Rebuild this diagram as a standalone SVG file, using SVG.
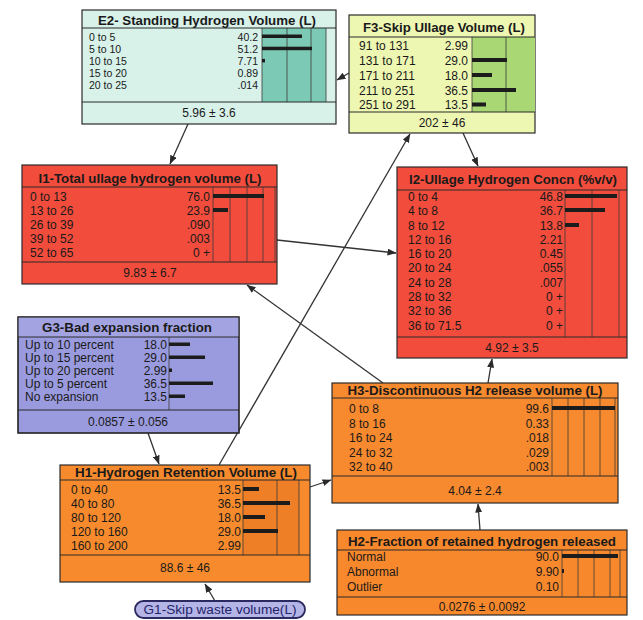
<svg xmlns="http://www.w3.org/2000/svg" width="643" height="620" viewBox="0 0 643 620">
<defs>
<marker id="arr" markerUnits="userSpaceOnUse" markerWidth="9" markerHeight="7" refX="8.5" refY="3.5" orient="auto">
<path d="M0,0 L9,3.5 L0,7 z" fill="#2a2a2a"/>
</marker>
</defs>
<style>
.box{stroke:#2b2b2b;stroke-width:1.2}
.ln{stroke:#2b2b2b;stroke-width:1}
.grid{stroke:#3a3a3a;stroke-width:0.8}
.title{font-family:"Liberation Sans",Arial,sans-serif;font-weight:bold;font-size:12.5px;fill:#1a1a1a;text-anchor:middle}
.row{font-family:"Liberation Sans",Arial,sans-serif;font-size:12px;fill:#1a1a1a}
.sm{font-size:10.5px}
.num{text-anchor:end}
.foot{text-anchor:middle}
.bar{fill:#1c1c1c}
.conn{stroke:#333;stroke-width:1.3;fill:none;marker-end:url(#arr)}
</style>
<rect width="643" height="620" fill="#ffffff"/>

<g id="connectors">
<line class="conn" x1="188" y1="124" x2="170" y2="164"/>
<line class="conn" x1="349" y1="73" x2="337" y2="80"/>
<line class="conn" x1="219" y1="465" x2="410" y2="134"/>
<line class="conn" x1="463" y1="133" x2="478" y2="166"/>
<line class="conn" x1="277" y1="240" x2="396" y2="253"/>
<line class="conn" x1="383" y1="383" x2="247" y2="285"/>
<line class="conn" x1="488" y1="383" x2="492" y2="359"/>
<line class="conn" x1="148" y1="433" x2="159" y2="464"/>
<line class="conn" x1="310" y1="487" x2="331" y2="480"/>
<line class="conn" x1="480" y1="530" x2="478" y2="504"/>
<line class="conn" x1="215" y1="601" x2="205" y2="584"/>
</g>

<g id="E2">
<rect class="box" x="82" y="10" width="254" height="114" fill="#d8f1e9"/>
<rect x="262" y="28" width="64" height="74" fill="#7ccab5"/>
<line class="grid" x1="262" y1="28" x2="262" y2="102"/>
<line class="grid" x1="287" y1="28" x2="287" y2="102"/>
<line class="grid" x1="311" y1="28" x2="311" y2="102"/>
<line class="grid" x1="326" y1="28" x2="326" y2="102"/>
<line class="ln" x1="82" y1="28" x2="336" y2="28"/>
<line class="ln" x1="82" y1="102" x2="336" y2="102"/>
<text class="title" x="207" y="24.5" textLength="218" lengthAdjust="spacingAndGlyphs">E2- Standing Hydrogen Volume (L)</text>
<text class="row sm" x="89" y="40.5">0 to 5</text>
<text class="row sm" x="89" y="52.7">5 to 10</text>
<text class="row sm" x="89" y="64.9">10 to 15</text>
<text class="row sm" x="89" y="77.1">15 to 20</text>
<text class="row sm" x="89" y="89.3">20 to 25</text>
<text class="row sm num" x="258" y="40.5">40.2</text>
<text class="row sm num" x="258" y="52.7">51.2</text>
<text class="row sm num" x="258" y="64.9">7.71</text>
<text class="row sm num" x="258" y="77.1">0.89</text>
<text class="row sm num" x="258" y="89.3">.014</text>
<rect class="bar" x="262" y="34.5" width="40" height="3.5"/>
<rect class="bar" x="262" y="46.7" width="50" height="3.5"/>
<rect class="bar" x="262" y="58.9" width="3" height="3.5"/>
<text class="row foot" x="209" y="117">5.96 ± 3.6</text>
</g>

<g id="F3">
<rect class="box" x="349" y="15" width="186" height="118" fill="#eef7b2"/>
<rect x="472" y="37" width="63" height="75" fill="#a9d774"/>
<line class="grid" x1="472" y1="37" x2="472" y2="112"/>
<line class="grid" x1="506" y1="37" x2="506" y2="112"/>
<line class="ln" x1="349" y1="37" x2="535" y2="37"/>
<line class="ln" x1="349" y1="112" x2="535" y2="112"/>
<text class="title" x="444" y="32" textLength="162" lengthAdjust="spacingAndGlyphs">F3-Skip Ullage Volume (L)</text>
<text class="row" x="359" y="50">91 to 131</text>
<text class="row" x="359" y="64.5">131 to 171</text>
<text class="row" x="359" y="79.5">171 to 211</text>
<text class="row" x="359" y="94.5">211 to 251</text>
<text class="row" x="359" y="109">251 to 291</text>
<text class="row num" x="468" y="50">2.99</text>
<text class="row num" x="468" y="64.5">29.0</text>
<text class="row num" x="468" y="79.5">18.0</text>
<text class="row num" x="468" y="94.5">36.5</text>
<text class="row num" x="468" y="109">13.5</text>
<rect class="bar" x="472" y="58" width="35" height="4"/>
<rect class="bar" x="472" y="73" width="20" height="4"/>
<rect class="bar" x="472" y="88" width="44" height="4"/>
<rect class="bar" x="472" y="102.5" width="14" height="4"/>
<text class="row foot" x="442" y="127">202 ± 46</text>
</g>

<g id="I1">
<rect class="box" x="22" y="165" width="255" height="119" fill="#f24c3c"/>
<line class="grid" x1="213" y1="187" x2="213" y2="262"/>
<line class="grid" x1="230" y1="187" x2="230" y2="262" stroke="#8a2a1a"/>
<line class="grid" x1="247" y1="187" x2="247" y2="262" stroke="#8a2a1a"/>
<line class="grid" x1="263" y1="187" x2="263" y2="262" stroke="#8a2a1a"/>
<line class="grid" x1="275" y1="187" x2="275" y2="262" stroke="#8a2a1a"/>
<line class="ln" x1="22" y1="187" x2="277" y2="187"/>
<line class="ln" x1="22" y1="262" x2="277" y2="262"/>
<text class="title" x="150" y="183" textLength="223" lengthAdjust="spacingAndGlyphs">I1-Total ullage hydrogen volume (L)</text>
<text class="row" x="30" y="201">0 to 13</text>
<text class="row" x="30" y="215">13 to 26</text>
<text class="row" x="30" y="229">26 to 39</text>
<text class="row" x="30" y="243">39 to 52</text>
<text class="row" x="30" y="257">52 to 65</text>
<text class="row num" x="210" y="201">76.0</text>
<text class="row num" x="210" y="215">23.9</text>
<text class="row num" x="210" y="229">.090</text>
<text class="row num" x="210" y="243">.003</text>
<text class="row num" x="210" y="257">0 +</text>
<rect class="bar" x="213" y="194" width="51" height="4"/>
<rect class="bar" x="213" y="208" width="15" height="4"/>
<text class="row foot" x="150" y="277">9.83 ± 6.7</text>
</g>

<g id="I2">
<rect class="box" x="397" y="167" width="230" height="191" fill="#f24c3c"/>
<line class="grid" x1="565" y1="190" x2="565" y2="337"/>
<line class="grid" x1="592" y1="190" x2="592" y2="337" stroke="#8a2a1a"/>
<line class="grid" x1="619" y1="190" x2="619" y2="337" stroke="#8a2a1a"/>
<line class="ln" x1="397" y1="190" x2="627" y2="190"/>
<line class="ln" x1="397" y1="337" x2="627" y2="337"/>
<text class="title" x="513" y="184" textLength="208" lengthAdjust="spacingAndGlyphs">I2-Ullage Hydrogen Concn (%v/v)</text>
<text class="row" x="408" y="201">0 to 4</text>
<text class="row" x="408" y="215">4 to 8</text>
<text class="row" x="408" y="230">8 to 12</text>
<text class="row" x="408" y="244">12 to 16</text>
<text class="row" x="408" y="258">16 to 20</text>
<text class="row" x="408" y="272">20 to 24</text>
<text class="row" x="408" y="287">24 to 28</text>
<text class="row" x="408" y="301">28 to 32</text>
<text class="row" x="408" y="315">32 to 36</text>
<text class="row" x="408" y="330">36 to 71.5</text>
<text class="row num" x="563" y="201">46.8</text>
<text class="row num" x="563" y="215">36.7</text>
<text class="row num" x="563" y="230">13.8</text>
<text class="row num" x="563" y="244">2.21</text>
<text class="row num" x="563" y="258">0.45</text>
<text class="row num" x="563" y="272">.055</text>
<text class="row num" x="563" y="287">.007</text>
<text class="row num" x="563" y="301">0 +</text>
<text class="row num" x="563" y="315">0 +</text>
<text class="row num" x="563" y="330">0 +</text>
<rect class="bar" x="565" y="194" width="52" height="4"/>
<rect class="bar" x="565" y="208" width="40" height="4"/>
<rect class="bar" x="565" y="223" width="14" height="4"/>
<text class="row foot" x="512" y="352">4.92 ± 3.5</text>
</g>

<g id="G3">
<rect class="box" x="18" y="317" width="221" height="116" fill="#9a9ade"/>
<rect x="18" y="317" width="221" height="20" fill="#a3a3e2"/>
<line class="grid" x1="169" y1="337" x2="169" y2="410" stroke="#5a5aa0"/>
<line class="ln" x1="18" y1="337" x2="239" y2="337"/>
<line class="ln" x1="18" y1="410" x2="239" y2="410"/>
<rect x="18" y="317" width="221" height="116" fill="none" class="box"/>
<text class="title" x="127" y="332" textLength="170" lengthAdjust="spacingAndGlyphs">G3-Bad expansion fraction</text>
<text class="row" x="25" y="349">Up to 10 percent</text>
<text class="row" x="25" y="362">Up to 15 percent</text>
<text class="row" x="25" y="375">Up to 20 percent</text>
<text class="row" x="25" y="388">Up to 5 percent</text>
<text class="row" x="25" y="401">No expansion</text>
<text class="row num" x="167" y="349">18.0</text>
<text class="row num" x="167" y="362">29.0</text>
<text class="row num" x="167" y="375">2.99</text>
<text class="row num" x="167" y="388">36.5</text>
<text class="row num" x="167" y="401">13.5</text>
<rect class="bar" x="169" y="342.5" width="21" height="3.5"/>
<rect class="bar" x="169" y="355.5" width="36" height="3.5"/>
<rect class="bar" x="169" y="368.5" width="3" height="3.5"/>
<rect class="bar" x="169" y="381.5" width="44" height="3.5"/>
<rect class="bar" x="169" y="394.5" width="16" height="3.5"/>
<text class="row foot" x="128" y="426">0.0857 ± 0.056</text>
</g>

<g id="H3">
<rect class="box" x="332" y="383" width="286" height="120" fill="#f7892e"/>
<line class="grid" x1="552" y1="398" x2="552" y2="476"/>
<line class="grid" x1="568" y1="398" x2="568" y2="476" stroke="#9a4a14"/>
<line class="grid" x1="584" y1="398" x2="584" y2="476" stroke="#9a4a14"/>
<line class="grid" x1="600" y1="398" x2="600" y2="476" stroke="#9a4a14"/>
<line class="grid" x1="615" y1="398" x2="615" y2="476" stroke="#9a4a14"/>
<line class="ln" x1="332" y1="398" x2="618" y2="398"/>
<line class="ln" x1="332" y1="476" x2="618" y2="476"/>
<text class="title" x="475" y="394.5" textLength="255" lengthAdjust="spacingAndGlyphs">H3-Discontinuous H2 release volume (L)</text>
<text class="row" x="349" y="413">0 to 8</text>
<text class="row" x="349" y="427.5">8 to 16</text>
<text class="row" x="349" y="442">16 to 24</text>
<text class="row" x="349" y="456.5">24 to 32</text>
<text class="row" x="349" y="471">32 to 40</text>
<text class="row num" x="549" y="413">99.6</text>
<text class="row num" x="549" y="427.5">0.33</text>
<text class="row num" x="549" y="442">.018</text>
<text class="row num" x="549" y="456.5">.029</text>
<text class="row num" x="549" y="471">.003</text>
<rect class="bar" x="552" y="406" width="63" height="4"/>
<text class="row foot" x="475" y="495">4.04 ± 2.4</text>
</g>

<g id="H1">
<rect class="box" x="60" y="465" width="250" height="117" fill="#f78a2c"/>
<rect x="243" y="480" width="56" height="75" fill="#ef7f26"/>
<line class="grid" x1="243" y1="480" x2="243" y2="555"/>
<line class="grid" x1="277" y1="480" x2="277" y2="555" stroke="#9a4a14"/>
<line class="grid" x1="299" y1="480" x2="299" y2="555" stroke="#b05a1a"/>
<line class="ln" x1="60" y1="480" x2="310" y2="480"/>
<line class="ln" x1="60" y1="555" x2="310" y2="555"/>
<text class="title" x="186" y="477" textLength="222" lengthAdjust="spacingAndGlyphs">H1-Hydrogen Retention Volume (L)</text>
<text class="row" x="71" y="494">0 to 40</text>
<text class="row" x="71" y="508">40 to 80</text>
<text class="row" x="71" y="522">80 to 120</text>
<text class="row" x="71" y="536">120 to 160</text>
<text class="row" x="71" y="550">160 to 200</text>
<text class="row num" x="241" y="494">13.5</text>
<text class="row num" x="241" y="508">36.5</text>
<text class="row num" x="241" y="522">18.0</text>
<text class="row num" x="241" y="536">29.0</text>
<text class="row num" x="241" y="550">2.99</text>
<rect class="bar" x="243" y="487" width="16" height="4"/>
<rect class="bar" x="243" y="501" width="47" height="4"/>
<rect class="bar" x="243" y="515" width="22" height="4"/>
<rect class="bar" x="243" y="529" width="35" height="4"/>
<text class="row foot" x="185" y="572">88.6 ± 46</text>
</g>

<g id="H2">
<rect class="box" x="337" y="530" width="290" height="85" fill="#f7882c"/>
<line class="grid" x1="562" y1="550" x2="562" y2="597"/>
<line class="grid" x1="578" y1="550" x2="578" y2="597" stroke="#9a4a14"/>
<line class="grid" x1="594" y1="550" x2="594" y2="597" stroke="#9a4a14"/>
<line class="grid" x1="610" y1="550" x2="610" y2="597" stroke="#9a4a14"/>
<line class="grid" x1="620" y1="550" x2="620" y2="597"/>
<line class="ln" x1="337" y1="550" x2="627" y2="550"/>
<line class="ln" x1="337" y1="597" x2="627" y2="597"/>
<text class="title" x="482" y="546" textLength="268" lengthAdjust="spacingAndGlyphs">H2-Fraction of retained hydrogen released</text>
<text class="row" x="347" y="561">Normal</text>
<text class="row" x="347" y="576">Abnormal</text>
<text class="row" x="347" y="591">Outlier</text>
<text class="row num" x="559" y="561">90.0</text>
<text class="row num" x="559" y="576">9.90</text>
<text class="row num" x="559" y="591">0.10</text>
<rect class="bar" x="562" y="554" width="56" height="4"/>
<rect class="bar" x="562" y="569" width="2" height="4"/>
<text class="row foot" x="482" y="610.5">0.0276 ± 0.0092</text>
</g>

<g id="G1">
<rect x="135" y="601" width="170" height="17" rx="8.5" ry="8.5" fill="#b4b4e6" stroke="#2a2a60" stroke-width="1.8"/>
<text class="row foot" x="220" y="614" style="fill:#23236a" textLength="153" lengthAdjust="spacingAndGlyphs">G1-Skip waste volume(L)</text>
</g>
</svg>
